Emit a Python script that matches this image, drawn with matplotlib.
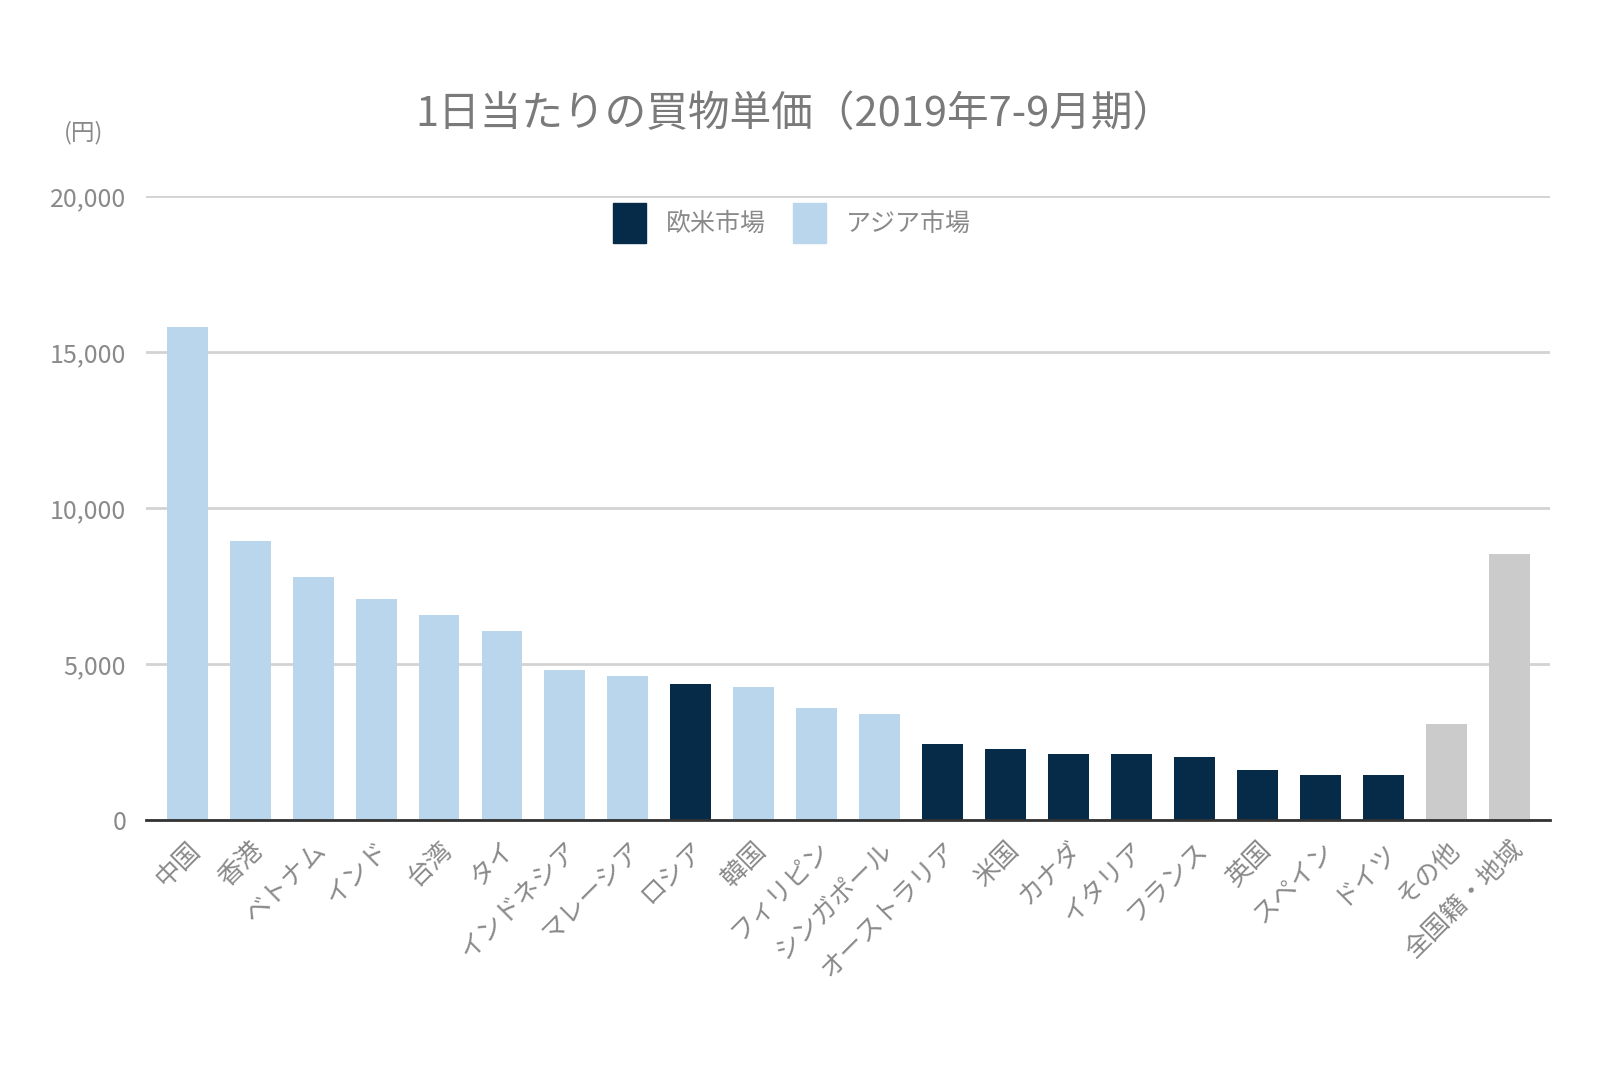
import matplotlib.pyplot as plt
from matplotlib.patches import Patch

plt.rcParams['font.family'] = ['Noto Sans CJK JP', 'DejaVu Sans']

countries = ["中国", "香港", "ベトナム", "インド", "台湾", "タイ", "インドネシア",
             "マレーシア", "ロシア", "韓国", "フィリピン", "シンガポール",
             "オーストラリア", "米国", "カナダ", "イタリア", "フランス", "英国",
             "スペイン", "ドイツ", "その他", "全国籍・地域"]
values = [15800, 8950, 7780, 7090, 6570, 6050, 4800, 4610, 4350, 4250, 3590, 3400,
          2450, 2290, 2120, 2120, 2030, 1600, 1440, 1440, 3070, 8530]
# group of each bar: west / asia / other
groups = ["asia"] * 8 + ["west", "asia", "asia", "asia"] + ["west"] * 8 + ["other", "other"]

colors = {"west": "#062b48", "asia": "#bad6ec", "other": "#cbcbcb"}
text_gray = "#8a8a8a"

fig = plt.figure(figsize=(16, 10.67), dpi=100)
ax = fig.add_axes([0.091, 0.2315, 0.878, 0.585])

x = list(range(len(countries)))
ax.bar(x, values, width=0.65, color=[colors[g] for g in groups], zorder=3)

ax.set_xlim(-0.66, 21.65)
ax.set_ylim(0, 20000)
ax.set_yticks([0, 5000, 10000, 15000, 20000])
ax.set_yticklabels(["0", "5,000", "10,000", "15,000", "20,000"])
ax.grid(axis="y", color="#d3d3d3", linewidth=2, zorder=0)
for s in ["left", "right", "top"]:
    ax.spines[s].set_visible(False)
ax.spines["bottom"].set_color("#333333")
ax.spines["bottom"].set_linewidth(2)
ax.spines["bottom"].set_zorder(4)
ax.tick_params(axis="y", length=0, labelsize=18, labelcolor=text_gray, pad=14)
ax.tick_params(axis="x", length=0, pad=12)

ax.set_xticks(x)
ax.set_xticklabels(countries, rotation=45, ha="right", rotation_mode="anchor",
                   fontsize=18.5, color=text_gray)

fig.text(0.497, 0.893, "1日当たりの買物単価（2019年7-9月期）", ha="center", va="center",
         fontsize=30, color="#7a7a7a")
fig.text(0.052, 0.876, "(円)", ha="center", va="center", fontsize=17, color=text_gray)

handles = [Patch(color=colors["west"], label="欧米市場"),
           Patch(color=colors["asia"], label="アジア市場")]
ax.legend(handles=handles, loc="upper center", bbox_to_anchor=(0.46, 1.025), ncol=2,
          frameon=False, fontsize=18, labelcolor=text_gray, handlelength=1.3,
          handleheight=2.1, columnspacing=1.1, handletextpad=0.8)

fig.savefig("out.png", dpi=100, facecolor="white")
